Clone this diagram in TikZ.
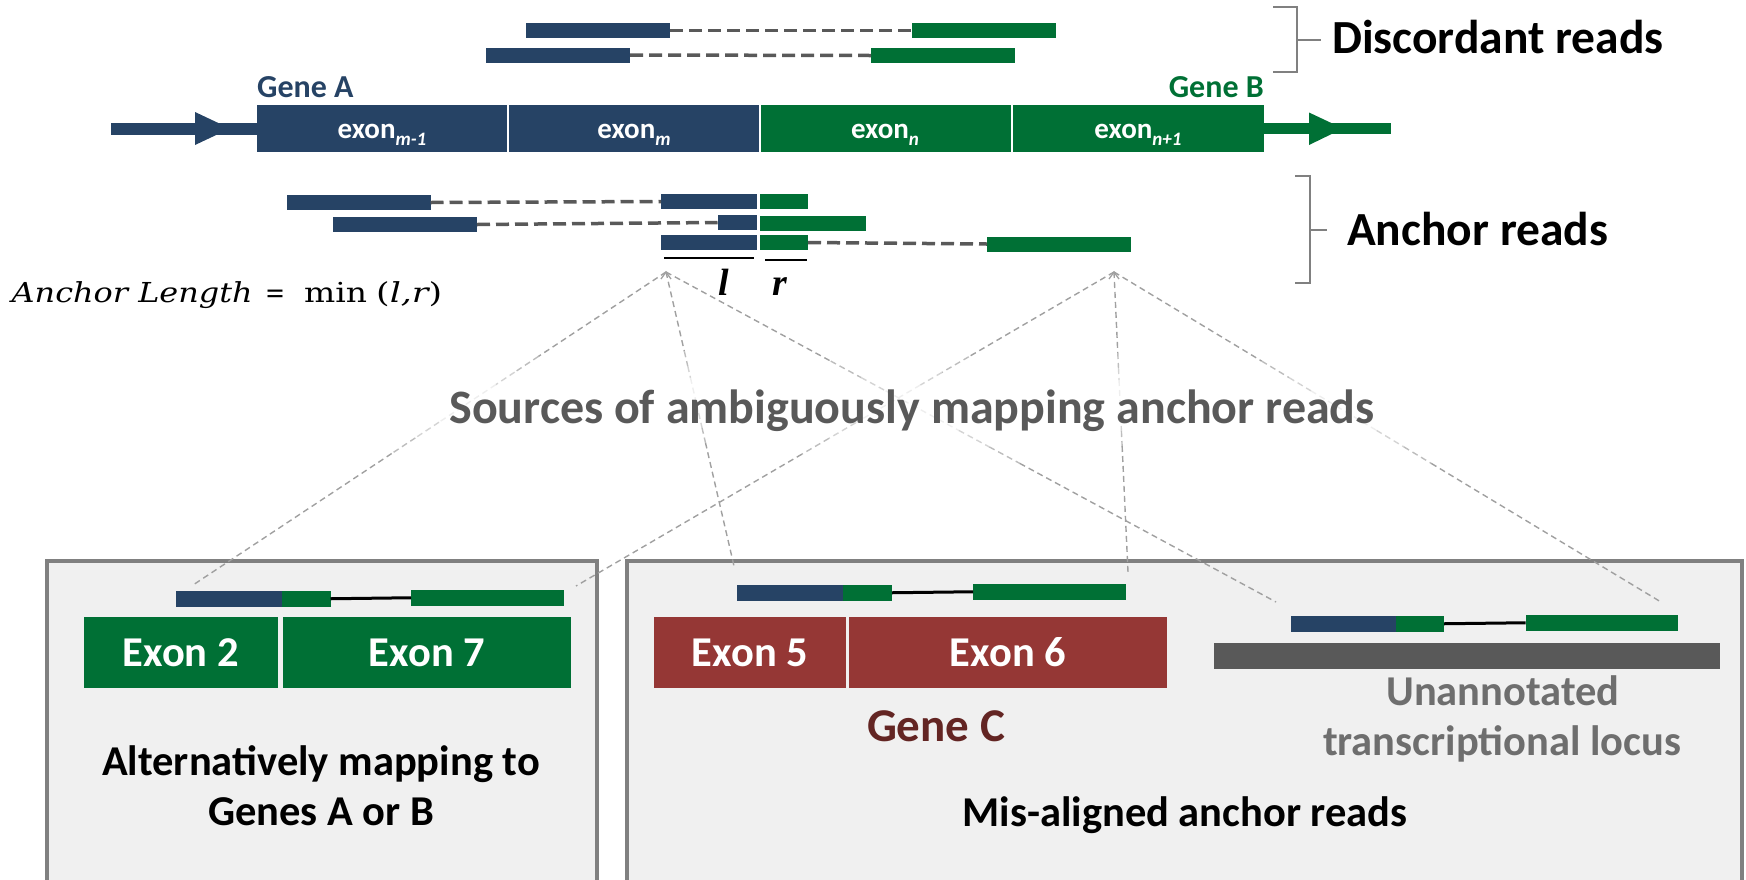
\documentclass[tikz,border=0pt]{standalone}
\usepackage{fontspec}
\usepackage{graphicx}
\setmainfont{Carlito}
\newfontfamily\serifmath{Liberation Serif}
\newfontfamily\eqfont{DejaVu Serif}
\usetikzlibrary{arrows.meta,calc}
\definecolor{geneblue}{HTML}{264365}
\definecolor{genegreen}{HTML}{007035}
\definecolor{exonred}{HTML}{953735}
\definecolor{genec}{HTML}{632523}
\definecolor{dgray}{HTML}{595959}
\definecolor{mgray}{HTML}{808080}
\definecolor{lgray}{HTML}{A0A0A0}
\definecolor{boxfill}{HTML}{F0F0F0}
\definecolor{utext}{HTML}{6E6E6E}
\newcommand\subx[1]{\raisebox{-0.26em}{\fontsize{19}{19}\selectfont\itshape #1}}
\tikzset{
  bar/.style={draw=none, inner sep=0pt, outer sep=0pt, anchor=north west},
  bread/.style={bar, fill=geneblue},
  gread/.style={bar, fill=genegreen},
  gexon/.style={bar, fill=genegreen, text=white, font=\fontsize{42.5}{42.5}\selectfont\bfseries},
  rexon/.style={bar, fill=exonred, text=white, font=\fontsize{42.5}{42.5}\selectfont\bfseries},
  pairdash/.style={draw=dgray, line width=3.5pt, dash pattern=on 13pt off 6pt},
  joint/.style={draw=black, line width=3pt},
  link/.style={line width=1.4pt, dash pattern=on 6pt off 4pt},
  bracket/.style={draw=mgray, line width=2pt},
  panel/.style={draw=mgray, line width=4pt, fill=boxfill},
  txt/.style={font=\fontsize{#1}{#1}\selectfont\bfseries, inner sep=0pt},
  symb/.style={anchor=base, inner sep=0pt, font=\serifmath\bfseries\itshape\fontsize{38}{38}\selectfont},
  eq/.style={anchor=base west, inner sep=0pt, font=\eqfont\fontsize{27.5}{27.5}\selectfont},
}
\newcommand\fadelink[2]{%
  \foreach \ta/\tb/\pc in {0/0.27/100,0.27/0.32/70,0.32/0.36/45,0.36/0.48/18,0.48/0.53/45,0.53/0.58/70,0.58/1/100}{%
    \draw[link, draw=lgray!\pc!white] ($(#1)!\ta!(#2)$) -- ($(#1)!\tb!(#2)$);}}
\begin{document}
\begin{tikzpicture}[x=1pt,y=-1pt]
\useasboundingbox (0,0) rectangle (1746,879);
\clip (0,0) rectangle (1746,879);

% panels
\draw[panel] (47,561) rectangle (597,900);
\draw[panel] (627,561) rectangle (1742,900);

% main gene bar
\node[bread, minimum width=250pt, minimum height=47pt] (exA1) at (257,105) {};
\node[bread, minimum width=250pt, minimum height=47pt] (exA2) at (509,105) {};
\node[gread, minimum width=250pt, minimum height=47pt] (exB1) at (760.5,105) {};
\node[gread, minimum width=251pt, minimum height=47pt] (exB2) at (1013,105) {};
\node[txt=29, text=white, anchor=base] (lA1) at (382,138) {exon\subx{m-1}};
\node[txt=29, text=white, anchor=base] (lA2) at (634,138) {exon\subx{m}};
\node[txt=29, text=white, anchor=base] (lB1) at (885,138) {exon\subx{n}};
\node[txt=29, text=white, anchor=base] (lB2) at (1138,138) {exon\subx{n+1}};
\node[txt=32, text=geneblue, anchor=base west] (gA) at (257,97) {Gene A};
\node[txt=32, text=genegreen, anchor=base east] (gB) at (1264,97) {Gene B};

% strand arrows
\coordinate (ls) at (111,128.5);
\draw[geneblue, line width=12pt] (ls) -- (exA1.west);
\fill[geneblue] (195,112) -- (230,128.5) -- (195,145) -- cycle;
\coordinate (re) at (1391,128.5);
\draw[genegreen, line width=11pt] (exB2.east) -- (re);
\fill[genegreen] (1309,112.5) -- (1343,128.5) -- (1309,145) -- cycle;

% discordant reads
\node[bread, minimum width=144pt, minimum height=15pt] (d1b) at (526,23) {};
\node[gread, minimum width=144pt, minimum height=15pt] (d1g) at (912,23) {};
\draw[pairdash] (d1b.east) -- (d1g.west);
\node[bread, minimum width=144pt, minimum height=15pt] (d2b) at (486,47.5) {};
\node[gread, minimum width=144pt, minimum height=15pt] (d2g) at (871,48) {};
\draw[pairdash] (d2b.east) -- (d2g.west);

% brackets
\coordinate (db1) at (1273,7); \coordinate (db2) at (1297,7);
\coordinate (db3) at (1297,72); \coordinate (db4) at (1273,72);
\draw[bracket] (db1) -- (db2) -- (db3) -- (db4);
\draw[bracket] (1297,39.5) -- (1321,39.5);
\node[txt=47.5, anchor=base west] (disc) at (1332,53) {Discordant reads};

\coordinate (ab1) at (1295,176); \coordinate (ab2) at (1310,176);
\coordinate (ab3) at (1310,283); \coordinate (ab4) at (1295,283);
\draw[bracket] (ab1) -- (ab2) -- (ab3) -- (ab4);
\draw[bracket] (1310,229.5) -- (1327,229.5);
\node[txt=47.5, anchor=base west] (anch) at (1347,245) {Anchor reads};

% anchor reads
\node[bread, minimum width=144pt, minimum height=15pt] (a1b) at (286.5,195) {};
\node[bread, minimum width=95.5pt, minimum height=15pt] (a1c) at (661,194) {};
\node[gread, minimum width=48pt, minimum height=15pt] (a1g) at (760,194) {};
\draw[pairdash] (a1b.east) -- (a1c.west);
\node[bread, minimum width=144pt, minimum height=15pt] (a2b) at (333,217) {};
\node[bread, minimum width=39pt, minimum height=15pt] (a2c) at (717.5,215) {};
\node[gread, minimum width=106pt, minimum height=15pt] (a2g) at (760,216) {};
\draw[pairdash] (a2b.east) -- (a2c.west);
\node[bread, minimum width=95.5pt, minimum height=15pt] (a3b) at (661,235) {};
\node[gread, minimum width=48pt, minimum height=15pt] (a3g) at (760,235) {};
\node[gread, minimum width=144pt, minimum height=15pt] (a3f) at (987,236.5) {};
\draw[pairdash] (a3g.east) -- (a3f.west);

\coordinate (lu1) at (664,258); \coordinate (lu2) at (754,258);
\coordinate (ru1) at (765,260); \coordinate (ru2) at (807,260);
\draw[line width=2.5pt] (lu1) -- (lu2);
\draw[line width=2.5pt] (ru1) -- (ru2);
\node[symb] (lsym) at (724,295) {l};
\node[symb] (rsym) at (780,295) {r};

% anchor length formula
\node[eq] (eq1) at (11.5,302) {\resizebox{241pt}{\height}{\itshape Anchor Length}};
\node[eq] (eq2) at (265,302) {\resizebox{20pt}{\height}{=}};
\node[eq] (eq3) at (304,302) {\resizebox{63pt}{\height}{min}};
\node[eq] (eq4) at (376,302) {\resizebox{66pt}{\height}{(\itshape l,r\upshape)}};

% links
\coordinate (ap1) at (666,272);
\coordinate (ap2) at (1114,272);
\coordinate (e1) at (193,585);
\coordinate (e2) at (734,566);
\coordinate (e3) at (1276,602);
\coordinate (e4) at (576,586);
\coordinate (e5) at (1128,572);
\coordinate (e6) at (1661,602);
\fadelink{ap1}{e1}
\fadelink{ap1}{e2}
\fadelink{ap1}{e3}
\fadelink{ap2}{e4}
\fadelink{ap2}{e5}
\fadelink{ap2}{e6}
\draw[draw=lgray, line width=1.3pt] ($(ap1)+(-5,7)$) -- (ap1) -- ($(ap1)+(5,7)$);
\draw[draw=lgray, line width=1.3pt] ($(ap2)+(-5,7)$) -- (ap2) -- ($(ap2)+(5,7)$);

\node[txt=48, text=dgray, anchor=base] (title) at (912,423) {Sources of ambiguously mapping anchor reads};

% panel 1
\node[bread, minimum width=106pt, minimum height=15.5pt] (b1b) at (176,591) {};
\node[gread, minimum width=48.5pt, minimum height=15.5pt] (b1g) at (282,591) {};
\node[gread, minimum width=153pt, minimum height=15.5pt] (b1f) at (411,590) {};
\draw[joint] (b1g.east) -- (b1f.west);
\node[gexon, minimum width=193.5pt, minimum height=71pt] (x2) at (84,617) {Exon 2};
\node[gexon, minimum width=288pt, minimum height=71pt] (x7) at (283,617) {Exon 7};
\node[txt=42.5, anchor=base] (t1) at (321,775) {Alternatively mapping to};
\node[txt=42.5, anchor=base] (t2) at (321,825) {Genes A or B};

% panel 2
\node[bread, minimum width=106pt, minimum height=15.5pt] (b2b) at (737,585) {};
\node[gread, minimum width=49pt, minimum height=15.5pt] (b2g) at (843,585) {};
\node[gread, minimum width=152.5pt, minimum height=15.5pt] (b2f) at (973,584) {};
\draw[joint] (b2g.east) -- (b2f.west);
\node[rexon, minimum width=192pt, minimum height=71pt] (x5) at (654,617) {Exon 5};
\node[rexon, minimum width=318pt, minimum height=71pt] (x6) at (849,617) {Exon 6};
\node[txt=47, text=genec, anchor=base] (gC) at (936,741) {Gene C};

\node[bread, minimum width=105pt, minimum height=15.5pt] (b3b) at (1291,616) {};
\node[gread, minimum width=48pt, minimum height=15.5pt] (b3g) at (1396,616) {};
\node[gread, minimum width=152.5pt, minimum height=15.5pt] (b3f) at (1525.5,615) {};
\draw[joint] (b3g.east) -- (b3f.west);
\node[bar, fill=dgray, minimum width=506pt, minimum height=25.5pt] (locus) at (1214,643.3) {};
\node[txt=42.5, text=utext, anchor=base] (u1) at (1503,705.7) {Unannotated};
\node[txt=42.5, text=utext, anchor=base] (u2) at (1502,755.7) {transcriptional locus};
\node[txt=42.5, anchor=base] (mis) at (1185,826) {Mis-aligned anchor reads};
\end{tikzpicture}
\end{document}
